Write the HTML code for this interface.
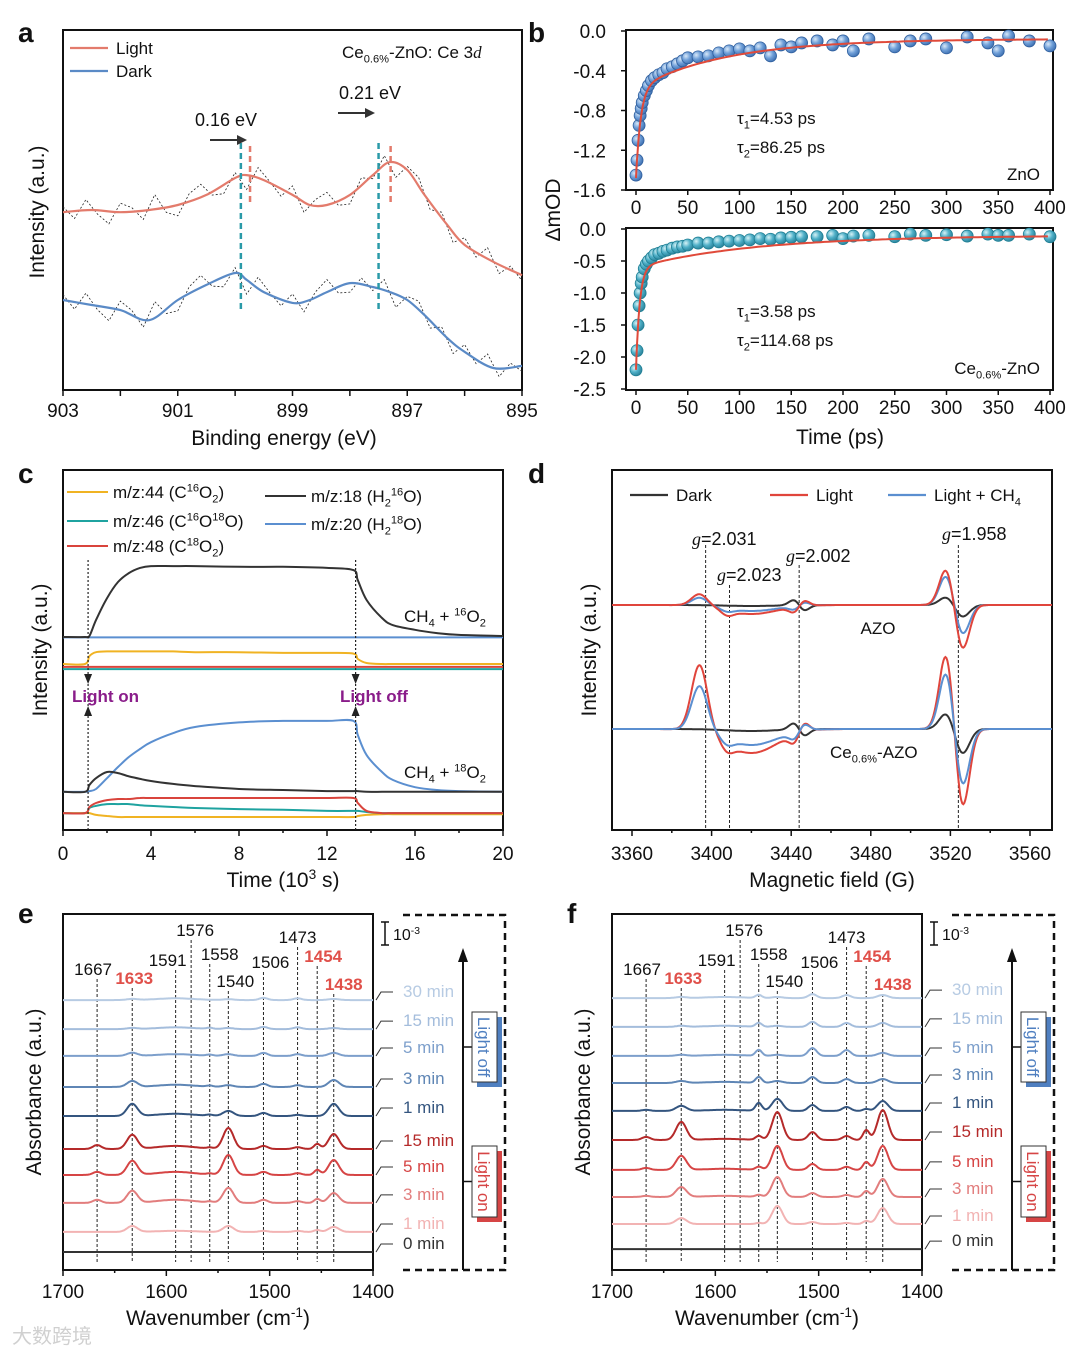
<!DOCTYPE html>
<html><head><meta charset="utf-8"><style>
html,body{margin:0;padding:0;background:#fff;}
svg{display:block;font-family:"Liberation Sans",Arial,sans-serif;}
</style></head><body>
<svg id="fig" width="1080" height="1354" viewBox="0 0 1080 1354" xmlns="http://www.w3.org/2000/svg">
<defs>
<radialGradient id="gb" cx="0.35" cy="0.35" r="0.7"><stop offset="0" stop-color="#d8e8f8"/><stop offset="0.5" stop-color="#6f9fd8"/><stop offset="1" stop-color="#3d6fb0"/></radialGradient>
<radialGradient id="gt" cx="0.35" cy="0.35" r="0.7"><stop offset="0" stop-color="#d6f2f6"/><stop offset="0.5" stop-color="#4fb0c8"/><stop offset="1" stop-color="#2a8098"/></radialGradient>
</defs>
</svg>
<script>
// ---------- DATA ----------
// panel a
const aBE=[903,902.5,902,901.5,901,900.5,900,899.8,899.5,899,898.7,898.4,898,897.6,897.3,897,896.7,896.3,896,895.5,895];
const aLight=[49.4,50,49.4,50,51.4,54.2,58.9,59.7,58.3,54.2,51.4,51.4,54.2,59.7,63.3,61.1,54.2,45.8,40.3,35.6,31.9];
const aDark=[25,23.6,22.2,19.4,25,29.2,32.5,30.6,27.2,24.2,25,27.2,29.7,28.6,27.2,25,20.8,14.4,10.6,6.1,6.7];
const aNoise=[3,-4,6,-2,-7,5,2,-5,8,-3,-6,4,7,-2,-5,3,-8,6,1,-4,5,-6,3,7,-3,-5,4,-2,6,-7,2,5,-4,3,-6,4,-3,6,-5,2,-3];
const aPeakDark=[899.9,897.5];
const aPeakLight=[899.74,897.29];
const aTicks=[903,901,899,897,895];
// panel b
const bT=[0,1,2,3,4,5,6,8,10,12,15,18,22,26,30,35,40,45,50,60,70,80,90,100,110,120,130,140,150,160,175,190,200,210,225,250,265,280,300,320,340,350,360,380,400];
const bZnO=[-1.45,-1.3,-1.1,-0.95,-0.85,-0.78,-0.72,-0.65,-0.6,-0.55,-0.5,-0.47,-0.44,-0.42,-0.38,-0.36,-0.33,-0.3,-0.27,-0.26,-0.25,-0.22,-0.2,-0.18,-0.2,-0.17,-0.25,-0.14,-0.16,-0.12,-0.1,-0.14,-0.1,-0.2,-0.08,-0.16,-0.1,-0.08,-0.17,-0.06,-0.12,-0.2,-0.05,-0.1,-0.15];
const bCe=[-2.2,-1.9,-1.5,-1.2,-1.0,-0.85,-0.75,-0.62,-0.55,-0.5,-0.45,-0.4,-0.38,-0.35,-0.33,-0.3,-0.28,-0.27,-0.25,-0.22,-0.22,-0.2,-0.19,-0.18,-0.17,-0.15,-0.16,-0.14,-0.13,-0.12,-0.12,-0.1,-0.15,-0.11,-0.1,-0.12,-0.08,-0.1,-0.09,-0.11,-0.08,-0.1,-0.1,-0.08,-0.12];
const bTauZnO=[4.53,86.25];
const bAmpZnO=[-0.9,-0.5,-0.08];
const bTauCe=[3.58,114.68];
const bAmpCe=[-1.6,-0.5,-0.1];
const bXTicks=[0,50,100,150,200,250,300,350,400];
const bYTicksTop=[0,-0.4,-0.8,-1.2,-1.6];
const bYTicksBot=[0,-0.5,-1,-1.5,-2,-2.5];
// panel c
const cT=[0,1.0,1.2,1.5,2,2.5,3,3.5,4,5,6,8,10,12,13.2,13.4,13.8,14.5,15,16,17,18,20];
const cBlackUp=[53.6,53.6,53.9,58.3,64.4,68.9,71.4,72.8,73.3,73.3,73.3,73.1,73.1,72.8,72.2,69.4,63.9,58.9,56.9,55.6,54.7,54.2,53.9];
const cBlueUp=[53.5,53.5,53.5,53.5,53.5,53.5,53.5,53.5,53.5,53.5,53.5,53.5,53.5,53.5,53.5,53.5,53.5,53.5,53.5,53.5,53.5,53.5,53.5];
const cYellowUp=[46.1,46.1,48.3,49.4,49.6,49.6,49.6,49.6,49.6,49.6,49.4,49.4,49.2,49.2,49.0,47.5,46.4,46.1,46.1,46.1,46.1,46.1,46.1];
const cTealUp=[44.7,44.7,44.7,44.7,44.7,44.7,44.7,44.7,44.7,44.7,44.7,44.7,44.7,44.7,44.7,44.7,44.7,44.7,44.7,44.7,44.7,44.7,44.7];
const cRedUp=[45.3,45.3,45.3,45.3,45.3,45.3,45.3,45.3,45.3,45.3,45.3,45.3,45.3,45.3,45.3,45.3,45.3,45.3,45.3,45.3,45.3,45.3,45.3];
const cBlueLo=[10.6,10.6,10.8,11.4,14.4,17.5,20.3,22.5,24.4,26.9,28.6,29.9,30.3,30.3,30.3,26.4,20.8,16.1,13.9,11.9,11.1,10.8,10.6];
const cBlackLo=[10.6,10.6,12.5,14.4,16.1,15.8,14.9,14.2,13.6,12.8,12.2,11.4,11.1,10.8,10.8,10.8,10.6,10.6,10.6,10.6,10.6,10.6,10.6];
const cRedLo=[4.7,4.7,6.4,7.5,8.3,8.6,8.6,8.9,8.9,8.9,8.9,8.9,8.9,8.9,8.9,7.5,5.3,4.7,4.7,4.7,4.7,4.7,4.7];
const cTealLo=[4.7,4.7,6.1,6.7,7.2,7.2,7.2,6.9,6.7,6.4,6.1,5.8,5.6,5.3,5.3,5.3,5.0,4.7,4.7,4.7,4.7,4.7,4.7];
const cYellowLo=[4.7,4.7,4.7,4.2,3.9,3.6,3.6,3.6,3.6,3.6,3.6,3.6,3.6,3.6,3.6,3.9,4.2,4.4,4.4,4.4,4.4,4.4,4.4];
const cLightOn=1.14, cLightOff=13.3;
const cTicks=[0,4,8,12,16,20];
// panel d
const dComp=[3394,3420,3444,3518,3526,3408];
const dWid=[4,13,3,3.5,3.5,3];
const dKind=['g','g','d','g','g','g'];
const dOffsets=[125,1];
const dUpDark=[0,-1,5,8,-12,0];
const dUpLight=[12,-9,-5,37,-45,-5];
const dUpBlue=[8,-6,-3,30,-30,-3];
const dLoDark=[0,-2,6,16,-25,0];
const dLoLight=[67,-24,-8,77,-80,-8];
const dLoBlue=[45,-16,-6,58,-58,-6];
const dG=[3397,3409,3444,3524];
const dTicks=[3360,3400,3440,3480,3520,3560];
// panels e,f
const irPeaks=[1667,1633,1591,1576,1558,1540,1506,1473,1454,1438];
const irWidths=[4,5,18,3,3,5,4,4,3,5];
const irLabels=['30 min','15 min','5 min','3 min','1 min','15 min','5 min','3 min','1 min','0 min'];
const eOffsets=[122.7,109.5,97.3,83.2,70,55,43.2,30.5,17.3,8.2];
const fOffsets=[123.6,110.5,97.3,85,72.3,59.1,45.5,33.2,20.9,9.5];
const eH30=[0,0.5,0.8,0,0,0.4,1,0.8,0,0.5];
const eH15=[0,0.5,0.8,0,0.5,0.5,1,0.8,0,0.5];
const eH5=[0,1.4,0.8,0,0.5,0.8,1.4,0.8,0,1.4];
const eH3=[0,2.7,1,0,0.5,0.8,1.4,0.8,0,3.2];
const eH1off=[0,5.5,1,0,0.5,2.3,1.4,0.5,0,5.5];
const eH15on=[1.8,6.4,1.4,0,0.5,9.5,1.4,0.8,2.3,6.8];
const eH5on=[1.4,6.4,1.4,0,0.5,9.1,1.4,0.8,2.3,6.8];
const eH3on=[1.4,5.5,1.4,0,0.5,6.8,1.4,0.8,1.8,4.5];
const eH1on=[0,2.7,0.5,0,0,2.7,0.5,0.5,0.9,2.3];
const eH0=[0,0,0,0,0,0,0,0,0,0];
const fH30=[0,0.5,0.5,0,1.4,0.5,1.8,1.4,0,1.4];
const fH15=[0,0.5,0.5,0,1.8,0.5,2.3,1.8,0,1.8];
const fH5=[0,0.5,0.5,0,2.7,0.5,3.6,2.7,0,1.4];
const fH3=[0,0.9,0.5,0,2.7,0.9,2.7,1.8,0,1.8];
const fH1off=[0.5,2.3,0.5,0,3.6,5.5,2.7,1.8,0.9,4.5];
const fH15on=[1.4,8.2,0.5,0,1.8,12.7,3.6,1.8,4.5,13.6];
const fH5on=[0.9,6.4,0.5,0,1.4,10.9,2.7,1.4,3.6,10.9];
const fH3on=[0.5,4.5,0.5,0,0.9,9.1,1.8,0.9,2.7,8.2];
const fH1on=[0,2.7,0,0,0.5,8.2,0.9,0.5,1.4,7.3];
const fH0=[0,0,0,0,0,0,0,0,0,0];
const irTicks=[1700,1600,1500,1400];

// ---------- HELPERS ----------
const NS='http://www.w3.org/2000/svg';
const svg=document.getElementById('fig');
function mk(tag,attrs,parent,name){
  const e=document.createElementNS(NS,tag);
  for(const k in attrs) e.setAttribute(k,attrs[k]);
  
  
  (parent||svg).appendChild(e);
  return e;
}
function lin(d0,d1,r0,r1){return v=>r0+(v-d0)/(d1-d0)*(r1-r0);}
function txt(x,y,str,size,name,o){
  o=o||{};
  const t=mk('text',{x:x,y:y,'font-size':size,fill:o.fill||'#111','text-anchor':o.anchor||'start','font-weight':o.weight||'normal','font-style':o.style||'normal','font-family':o.family||'"Liberation Sans",Arial,sans-serif'},o.parent,name);
  if(o.rotate!==undefined) t.setAttribute('transform','rotate('+o.rotate+' '+x+' '+y+')');
  const re=/(\^\{[^}]*\}|_\{[^}]*\}|[^\^_]+)/g; let m; let off=0;
  while((m=re.exec(str))){
    const s=m[0]; const ts=document.createElementNS(NS,'tspan');
    if(s[0]==='^'||s[0]==='_'){
      const d=(s[0]==='^'?-0.38:0.25)*size;
      ts.setAttribute('dy',(d-off).toFixed(1)); off=d;
      ts.setAttribute('font-size',(size*0.65).toFixed(1));
      ts.textContent=s.slice(2,-1);
    } else {
      if(off!==0){ts.setAttribute('dy',(-off).toFixed(1)); off=0;}
      ts.textContent=s;
    }
    t.appendChild(ts);
  }
  return t;
}
function smooth(pts){
  let d='M'+pts[0][0].toFixed(1)+','+pts[0][1].toFixed(1);
  for(let i=0;i<pts.length-1;i++){
    const p0=pts[i-1]||pts[i],p1=pts[i],p2=pts[i+1],p3=pts[i+2]||p2;
    d+='C'+(p1[0]+(p2[0]-p0[0])/6).toFixed(1)+','+(p1[1]+(p2[1]-p0[1])/6).toFixed(1)+' '+(p2[0]-(p3[0]-p1[0])/6).toFixed(1)+','+(p2[1]-(p3[1]-p1[1])/6).toFixed(1)+' '+p2[0].toFixed(1)+','+p2[1].toFixed(1);
  }
  return d;
}
function poly(pts){return 'M'+pts.map(p=>p[0].toFixed(1)+','+p[1].toFixed(1)).join('L');}
function interp(xs,ys,x){
  for(let i=0;i<xs.length-1;i++){const a=xs[i],b=xs[i+1];if((x-a)*(x-b)<=0){return ys[i]+(ys[i+1]-ys[i])*(x-a)/(b-a);}}
  return ys[ys.length-1];
}
function frame(x0,y0,x1,y1,name){mk('rect',{x:x0,y:y0,width:x1-x0,height:y1-y0,fill:'none',stroke:'#111','stroke-width':2},null,name);}
function panelLetter(x,y,l){txt(x,y,l,28,'panel-label-'+l,{weight:'bold'});}

// ---------- PANEL A ----------
panelLetter(18,42,'a');
const xa=lin(903,895,63,522), ya=lin(0,100,390,30);
frame(63,30,522,390,'panel-a-frame');
for(let v=903;v>=895;v--){mk('line',{x1:xa(v),x2:xa(v),y1:390,y2:396,stroke:'#111','stroke-width':1.5},null,'a-x-tick');}
aTicks.forEach(v=>txt(xa(v),417,String(v),19,'a-x-tick-label',{anchor:'middle'}));
txt(284,445,'Binding energy (eV)',21,'a-x-axis-title',{anchor:'middle'});
txt(44,212,'Intensity (a.u.)',21,'a-y-axis-title',{anchor:'middle',rotate:-90});
[[aLight,'#e37b6c','light'],[aDark,'#5a8ac6','dark']].forEach(([ser,col,nm])=>{
  const raw=[]; for(let i=0;i<aNoise.length;i++){const be=903-i*0.2; raw.push([xa(be),ya(interp(aBE,ser,be)+aNoise[i]*0.5)]);}
  mk('path',{d:poly(raw),fill:'none',stroke:'#222','stroke-width':0.8,'stroke-dasharray':'2,2'},null,'a-raw-'+nm);
  mk('path',{d:smooth(aBE.map((b,i)=>[xa(b),ya(ser[i])])),fill:'none',stroke:col,'stroke-width':2.2},null,'a-curve-'+nm);
});
aPeakDark.forEach(p=>mk('line',{x1:xa(p),x2:xa(p),y1:143,y2:312,stroke:'#2a9aa8','stroke-width':2.5,'stroke-dasharray':'6,4'},null,'a-peak-dark-line'));
aPeakLight.forEach(p=>mk('line',{x1:xa(p),x2:xa(p),y1:146,y2:205,stroke:'#e37b6c','stroke-width':2.5,'stroke-dasharray':'6,4'},null,'a-peak-light-line'));
function arrowH(x0,x1,y,name){mk('line',{x1:x0,x2:x1-6,y1:y,y2:y,stroke:'#333','stroke-width':2},null,name);mk('path',{d:`M${x1},${y}L${x1-10},${y-5}L${x1-10},${y+5}Z`,fill:'#333'},null,name+'-head');}
arrowH(210,247,140,'a-shift-arrow-1'); txt(226,126,'0.16 eV',18,'a-shift-label-1',{anchor:'middle'});
arrowH(338,375,113,'a-shift-arrow-2');
txt(370,99,'0.21 eV',18,'a-shift-label-2',{anchor:'middle'});
mk('line',{x1:70,x2:108,y1:48,y2:48,stroke:'#e37b6c','stroke-width':2.2},null,'a-legend-light-line');
txt(116,54,'Light',17,'a-legend-light');
mk('line',{x1:70,x2:108,y1:71,y2:71,stroke:'#5a8ac6','stroke-width':2.2},null,'a-legend-dark-line');
txt(116,77,'Dark',17,'a-legend-dark');
const at=txt(342,58,'Ce_{0.6%}-ZnO: Ce 3',17,'a-title');
const ad=document.createElementNS(NS,'tspan'); ad.setAttribute('font-style','italic'); ad.setAttribute('font-family','"Liberation Serif",serif'); ad.textContent='d'; at.appendChild(ad);

// ---------- PANEL B ----------
panelLetter(528,42,'b');
const xb=lin(0,400,636,1050);
const ybT=lin(0,-1.6,31,190), ybB=lin(0,-2.5,229,389);
frame(626,30,1053,190,'b-top-frame'); frame(626,228,1053,390,'b-bottom-frame');
function fitCurve(t,amp,tau){return amp[0]*Math.exp(-t/tau[0])+amp[1]*Math.exp(-t/tau[1])+amp[2];}
[[ybT,bZnO,bAmpZnO,bTauZnO,'url(#gb)','znO',190,bYTicksTop,'#2f5f9e'],[ybB,bCe,bAmpCe,bTauCe,'url(#gt)','ce',390,bYTicksBot,'#1f7f94']].forEach(([ys,vals,amp,tau,fillc,nm,yb,yt,sc])=>{
  bXTicks.forEach(v=>{mk('line',{x1:xb(v),x2:xb(v),y1:yb,y2:yb+5,stroke:'#111','stroke-width':1.5},null,'b-x-tick');txt(xb(v),yb+24,String(v),19,'b-x-tick-label',{anchor:'middle'});});
  yt.forEach(v=>{mk('line',{x1:621,x2:626,y1:ys(v),y2:ys(v),stroke:'#111','stroke-width':1.5},null,'b-y-tick');txt(606,ys(v)+7,v.toFixed(1),19,'b-y-tick-label',{anchor:'end'});});
  bT.forEach((t,i)=>mk('circle',{cx:xb(t),cy:ys(vals[i]),r:6,fill:fillc,stroke:sc,'stroke-width':0.8},null,'b-point-'+nm));
  const pts=[]; for(let t=0;t<=400;t+=(t<30?0.5:4)) pts.push([xb(t),ys(fitCurve(t,amp,tau))]);
  mk('path',{d:poly(pts),fill:'none',stroke:'#e04a3a','stroke-width':2},null,'b-fit-'+nm);
});
txt(737,124,'τ_{1}=4.53 ps',17,'b-tau1-zno'); txt(737,153,'τ_{2}=86.25 ps',17,'b-tau2-zno');
txt(1040,180,'ZnO',17,'b-label-zno',{anchor:'end'});
txt(737,317,'τ_{1}=3.58 ps',17,'b-tau1-ce'); txt(737,346,'τ_{2}=114.68 ps',17,'b-tau2-ce');
txt(1040,374,'Ce_{0.6%}-ZnO',17,'b-label-ce',{anchor:'end'});
txt(560,210,'ΔmOD',21,'b-y-axis-title',{anchor:'middle',rotate:-90});
txt(840,444,'Time (ps)',21,'b-x-axis-title',{anchor:'middle'});

// ---------- PANEL C ----------
panelLetter(18,483,'c');
const xc=lin(0,20,63,503), yc=lin(0,100,830,470);
frame(63,470,503,830,'c-frame');
for(let v=0;v<=20;v+=2){mk('line',{x1:xc(v),x2:xc(v),y1:830,y2:v%4===0?836:833,stroke:'#111','stroke-width':1.5},null,'c-x-tick');}
cTicks.forEach(v=>txt(xc(v),860,String(v),19,'c-x-tick-label',{anchor:'middle'}));
txt(283,887,'Time (10^{3} s)',21,'c-x-axis-title',{anchor:'middle'});
txt(47,650,'Intensity (a.u.)',21,'c-y-axis-title',{anchor:'middle',rotate:-90});
const cSeries=[[cBlueUp,'#5b8fd0','m20-upper'],[cRedUp,'#d9443c','m48-upper'],[cTealUp,'#1fa3a0','m46-upper'],[cYellowUp,'#f0b323','m44-upper'],[cBlackUp,'#333','m18-upper'],
[cYellowLo,'#f0b323','m44-lower'],[cTealLo,'#1fa3a0','m46-lower'],[cRedLo,'#d9443c','m48-lower'],[cBlueLo,'#5b8fd0','m20-lower'],[cBlackLo,'#333','m18-lower']];
cSeries.forEach(([s,col,nm])=>mk('path',{d:smooth(cT.map((t,i)=>[xc(t),yc(s[i])])),fill:'none',stroke:col,'stroke-width':2},null,'c-line-'+nm));
[[cLightOn,'on'],[cLightOff,'off']].forEach(([t,nm])=>{
  const x=xc(t);
  mk('line',{x1:x,x2:x,y1:560,y2:830,stroke:'#222','stroke-width':1.2,'stroke-dasharray':'2,2'},null,'c-light-'+nm+'-line');
  mk('path',{d:`M${x},684L${x-4},674L${x+4},674Z`,fill:'#222'},null,'c-arrow-down-'+nm);
  mk('path',{d:`M${x},706L${x-4},716L${x+4},716Z`,fill:'#222'},null,'c-arrow-up-'+nm);
});
txt(72,702,'Light on',17,'c-light-on-label',{fill:'#8a1d8a',weight:'bold'});
txt(340,702,'Light off',17,'c-light-off-label',{fill:'#8a1d8a',weight:'bold'});
txt(404,622,'CH_{4} + ^{16}O_{2}',17,'c-label-16o2');
txt(404,778,'CH_{4} + ^{18}O_{2}',17,'c-label-18o2');
[['#f0b323','m/z:44 (C^{16}O_{2})',67,492],['#1fa3a0','m/z:46 (C^{16}O^{18}O)',67,521],['#d9443c','m/z:48 (C^{18}O_{2})',67,546],['#333','m/z:18 (H_{2}^{16}O)',265,496],['#5b8fd0','m/z:20 (H_{2}^{18}O)',265,524]].forEach(([col,lab,x,y],i)=>{
  mk('line',{x1:x,x2:x+41,y1:y,y2:y,stroke:col,'stroke-width':2},null,'c-legend-line');
  txt(x+46,y+6,lab,17,'c-legend-entry');
});

// ---------- PANEL D ----------
panelLetter(528,483,'d');
const xd=lin(3360,3560,632,1030), yd=lin(-100,260,830,470);
frame(612,470,1052,830,'d-frame');
for(let v=3360;v<=3560;v+=20){mk('line',{x1:xd(v),x2:xd(v),y1:830,y2:v%40===0?836:833,stroke:'#111','stroke-width':1.5},null,'d-x-tick');}
dTicks.forEach(v=>txt(xd(v),860,String(v),19,'d-x-tick-label',{anchor:'middle'}));
txt(832,887,'Magnetic field (G)',21,'d-x-axis-title',{anchor:'middle'});
txt(596,650,'Intensity (a.u.)',21,'d-y-axis-title',{anchor:'middle',rotate:-90});
function epr(x,amps){let s=0;for(let k=0;k<dComp.length;k++){const u=(x-dComp[k])/dWid[k];s+=dKind[k]==='g'?amps[k]*Math.exp(-u*u/2):amps[k]*(-u)*Math.exp(0.5-u*u/2);}return s;}
dG.forEach(g=>mk('line',{x1:xd(g),x2:xd(g),y1:g===3397||g===3524?545:(g===3409?585:565),y2:830,stroke:'#222','stroke-width':1,'stroke-dasharray':'3,2'},null,'d-g-line'));
[[dUpDark,0,'#333','dark-azo'],[dUpBlue,0,'#5b8fd0','light-ch4-azo'],[dUpLight,0,'#e0453c','light-azo'],[dLoDark,1,'#333','dark-ce-azo'],[dLoLight,1,'#e0453c','light-ce-azo'],[dLoBlue,1,'#5b8fd0','light-ch4-ce-azo']].forEach(([amps,oi,col,nm])=>{
  const pts=[]; for(let x=3350;x<=3571;x+=0.5) pts.push([xd(x),yd(dOffsets[oi]+epr(x,amps))]);
  mk('path',{d:poly(pts),fill:'none',stroke:col,'stroke-width':2},null,'d-spectrum-'+nm);
});
function gLab(x,y,val,name){const t=txt(x,y,'',18,name);const a=document.createElementNS(NS,'tspan');a.setAttribute('font-style','italic');a.setAttribute('font-family','"Liberation Serif",serif');a.textContent='g';t.appendChild(a);const b=document.createElementNS(NS,'tspan');b.textContent='='+val;t.appendChild(b);}
gLab(692,545,'2.031','d-g-label-2031'); gLab(717,581,'2.023','d-g-label-2023'); gLab(786,562,'2.002','d-g-label-2002'); gLab(942,540,'1.958','d-g-label-1958');
txt(878,634,'AZO',17,'d-label-azo',{anchor:'middle'});
txt(830,758,'Ce_{0.6%}-AZO',17,'d-label-ce-azo');
[['#333','Dark',630],['#e0453c','Light',770],['#5b8fd0','Light + CH_{4}',888]].forEach(([col,lab,x])=>{
  mk('line',{x1:x,x2:x+38,y1:495,y2:495,stroke:col,'stroke-width':2.2},null,'d-legend-line');
  txt(x+46,501,lab,17,'d-legend-entry');
});

// ---------- PANELS E,F ----------
const irColors=['#b7cbe3','#a4bddc','#7d9fcb','#5f86b5','#34557f','#b52a2a','#d64545','#e27d7d','#f2b3b3','#333'];
const eHeights=[eH30,eH15,eH5,eH3,eH1off,eH15on,eH5on,eH3on,eH1on,eH0];
const fHeights=[fH30,fH15,fH5,fH3,fH1off,fH15on,fH5on,fH3on,fH1on,fH0];
const labY=[975,984,966,936,960,987,968,943,962,990];
const labDx=[-4,2,-8,4,10,7,7,0,6,10];
const labRed=[false,true,false,false,false,false,false,false,true,true];
function irPanel(letter,x0,offsets,heights){
  const x1=x0+310, xs=lin(1700,1400,x0,x1), ys=v=>1270-v*2.2;
  panelLetter(x0-45,923,letter);
  frame(x0,914,x1,1270,letter+'-frame');
  for(let v=1700;v>=1400;v-=50){mk('line',{x1:xs(v),x2:xs(v),y1:1270,y2:v%100===0?1276:1273,stroke:'#111','stroke-width':1.5},null,letter+'-x-tick');}
  irTicks.forEach(v=>txt(xs(v),1298,String(v),19,letter+'-x-tick-label',{anchor:'middle'}));
  txt(x0+155,1325,'Wavenumber (cm^{-1})',21,letter+'-x-axis-title',{anchor:'middle'});
  txt(x0-22,1092,'Absorbance (a.u.)',21,letter+'-y-axis-title',{anchor:'middle',rotate:-90});
  irPeaks.forEach((p,i)=>{
    mk('line',{x1:xs(p),x2:xs(p),y1:labY[i]+4,y2:1262,stroke:'#222','stroke-width':1,'stroke-dasharray':'3,2'},null,letter+'-peak-line');
    txt(xs(p)+labDx[i],labY[i],String(p),17,letter+'-peak-label',{anchor:'middle',fill:labRed[i]?'#e0504a':'#111',weight:labRed[i]?'bold':'normal'});
  });
  offsets.forEach((off,j)=>{
    const pts=[]; for(let w=1700;w>=1400;w-=1){let s=0;for(let k=0;k<irPeaks.length;k++){const u=(w-irPeaks[k])/irWidths[k];s+=heights[j][k]*Math.exp(-u*u/2);}pts.push([xs(w),ys(off+s)]);}
    mk('path',{d:poly(pts),fill:'none',stroke:irColors[j],'stroke-width':2},null,letter+'-spectrum-'+j);
    const b=ys(off);
    mk('path',{d:`M${x1+3},${b}L${x1+8},${b-8}L${x1+20},${b-8}`,fill:'none',stroke:'#333','stroke-width':1},null,letter+'-trace-tick');
    txt(x1+30,b-3,irLabels[j],17,letter+'-trace-label',{fill:irColors[j]});
  });
  mk('path',{d:`M${x1+8},922L${x1+16},922M${x1+12},922L${x1+12},945M${x1+8},945L${x1+16},945`,stroke:'#111','stroke-width':1.5,fill:'none'},null,letter+'-scale-bar');
  txt(x1+20,940,'10^{-3}',16,letter+'-scale-label');
  mk('path',{d:`M${x1+30},915L${x1+132},915L${x1+132},1270L${x1+30},1270`,fill:'none',stroke:'#111','stroke-width':2.5,'stroke-dasharray':'7,5'},null,letter+'-dashed-box');
  const ax=x1+90;
  mk('line',{x1:ax,x2:ax,y1:1270,y2:958,stroke:'#111','stroke-width':2},null,letter+'-time-arrow');
  mk('path',{d:`M${ax},948L${ax-5},962L${ax+5},962Z`,fill:'#111'},null,letter+'-time-arrow-head');
  [['Light off',1012,1082,'#4f7fc0','light-off'],['Light on',1146,1217,'#d64545','light-on']].forEach(([lab,yt,yb,col,nm])=>{
    mk('line',{x1:ax,x2:ax+9,y1:(yt+yb)/2,y2:(yt+yb)/2,stroke:'#111','stroke-width':1.5},null,letter+'-'+nm+'-connector');
    mk('rect',{x:ax+14,y:yt+5,width:25,height:yb-yt,fill:col},null,letter+'-'+nm+'-shadow');
    mk('rect',{x:ax+9,y:yt,width:25,height:yb-yt,fill:'#fff',stroke:'#333','stroke-width':1},null,letter+'-'+nm+'-box');
    txt(ax+15,(yt+yb)/2,lab,17,letter+'-'+nm+'-label',{anchor:'middle',fill:col,rotate:90});
  });
}
irPanel('e',63,eOffsets,eHeights);
irPanel('f',612,fOffsets,fHeights);
txt(12,1343,'大数跨境',20,'watermark',{fill:'#d0d0d0',family:'"Liberation Sans","Noto Sans CJK SC",sans-serif'});
</script>
</body></html>
